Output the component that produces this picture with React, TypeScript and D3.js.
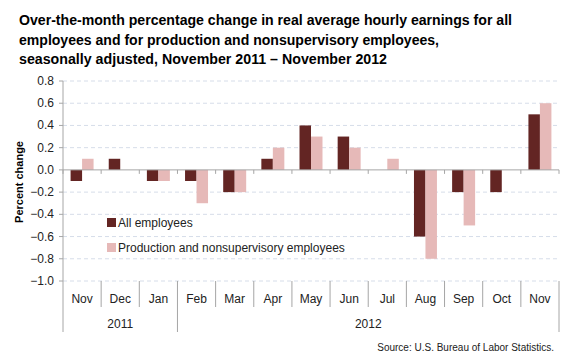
import React from 'react';
import * as d3 from 'd3';

const months = ['Nov', 'Dec', 'Jan', 'Feb', 'Mar', 'Apr', 'May', 'Jun', 'Jul', 'Aug', 'Sep', 'Oct', 'Nov'];
const years = [
  { label: '2011', from: 0, to: 3 },
  { label: '2012', from: 3, to: 13 },
];
const allEmployees = [-0.1, 0.1, -0.1, -0.1, -0.2, 0.1, 0.4, 0.3, 0.0, -0.6, -0.2, -0.2, 0.5];
const production = [0.1, 0.0, -0.1, -0.3, -0.2, 0.2, 0.3, 0.2, 0.1, -0.8, -0.5, 0.0, 0.6];
const yTicks = [0.8, 0.6, 0.4, 0.2, 0.0, -0.2, -0.4, -0.6, -0.8, -1.0];
const seriesNames = ['All employees', 'Production and nonsupervisory employees'];
const colors = ['#632523', '#E6B9B8'];

const titleLines = [
  { text: 'Over-the-month percentage change in real average hourly earnings for all', len: 493 },
  { text: 'employees and for production and nonsupervisory employees,', len: 420 },
  { text: 'seasonally adjusted, November 2011 \u2013 November 2012', len: 368 },
];

const font = '"Liberation Sans", Arial, sans-serif';
const axisColor = '#A6A6A6';

export default function App() {
  const width = 580;
  const height = 360;
  const left = 63;
  const right = 559;

  const y = d3.scaleLinear().domain([-1.0, 0.8]).range([281, 81]);
  const x = d3.scaleBand<number>().domain(d3.range(months.length)).range([left, right]).padding(0);
  const inner = d3.scaleBand<number>().domain([0, 1]).range([0, x.step()]).paddingInner(0).paddingOuter(0.66);

  const series = [allEmployees, production];
  const boundaries = d3.range(months.length + 1).map(i => left + i * x.step());
  const yearEdges = new Set(years.flatMap(yr => [yr.from, yr.to]));

  return (
    <svg width={width} height={height} style={{ position: 'absolute', left: 0, top: 0, background: '#fff' }}>
      {/* title */}
      {titleLines.map((l, i) => (
        <text key={i} x={19} y={25 + i * 19.5} fontFamily={font} fontWeight="bold" fontSize={14}
          textLength={l.len} lengthAdjust="spacingAndGlyphs" fill="#000">
          {l.text}
        </text>
      ))}

      {/* gridlines */}
      {yTicks.filter(t => t !== 0).map(t => (
        <line key={t} x1={left} x2={right} y1={y(t)} y2={y(t)} stroke="#D6DDE9" strokeDasharray="4,3" />
      ))}

      {/* y ticks + labels */}
      {yTicks.map(t => (
        <g key={'t' + t}>
          <line x1={left - 4} x2={left} y1={y(t)} y2={y(t)} stroke={axisColor} />
          <text x={54} y={y(t) + 4} textAnchor="end" fontFamily={font} fontSize={12} fill="#222">
            {d3.format('.1f')(t)}
          </text>
        </g>
      ))}

      {/* bars */}
      {series.map((vals, si) =>
        vals.map((v, i) => (
          <rect key={si + '-' + i}
            x={(x(i) as number) + (inner(si) as number)}
            width={inner.bandwidth()}
            y={y(Math.max(0, v))}
            height={Math.abs(y(v) - y(0))}
            fill={colors[si]} />
        ))
      )}

      {/* zero line with ticks */}
      <line x1={left} x2={right} y1={y(0)} y2={y(0)} stroke={axisColor} />
      {boundaries.map((bx, i) => (
        <line key={'z' + i} x1={bx} x2={bx} y1={y(0)} y2={y(0) + 4} stroke={axisColor} />
      ))}

      {/* y axis */}
      <line x1={left} x2={left} y1={y(0.8)} y2={y(-1.0)} stroke={axisColor} />

      {/* category separators */}
      {boundaries.map((bx, i) => (
        <line key={'s' + i} x1={bx} x2={bx} y1={y(-1.0)} y2={yearEdges.has(i) ? 332 : 307} stroke={axisColor} />
      ))}

      {/* month labels */}
      {months.map((m, i) => (
        <text key={'m' + i} x={(x(i) as number) + x.bandwidth() / 2} y={303} textAnchor="middle"
          fontFamily={font} fontSize={12} fill="#222">{m}</text>
      ))}

      {/* year labels */}
      {years.map(yr => (
        <text key={yr.label} x={left + ((yr.from + yr.to) / 2) * x.step()} y={328} textAnchor="middle"
          fontFamily={font} fontSize={12} fill="#222">{yr.label}</text>
      ))}

      {/* y axis title */}
      <text transform={`translate(23,182) rotate(-90)`} textAnchor="middle" fontFamily={font}
        fontWeight="bold" fontSize={11} fill="#000">Percent change</text>

      {/* legend */}
      {seriesNames.map((n, i) => (
        <g key={n} transform={`translate(107,${218 + i * 25})`}>
          <rect width={9} height={9} fill={colors[i]} />
          <text x={11} y={8.5} fontFamily={font} fontSize={12} fill="#222">{n}</text>
        </g>
      ))}

      {/* source */}
      <text x={554} y={351} textAnchor="end" fontFamily={font} fontSize={10} fill="#222">
        Source: U.S. Bureau of Labor Statistics.
      </text>
    </svg>
  );
}
